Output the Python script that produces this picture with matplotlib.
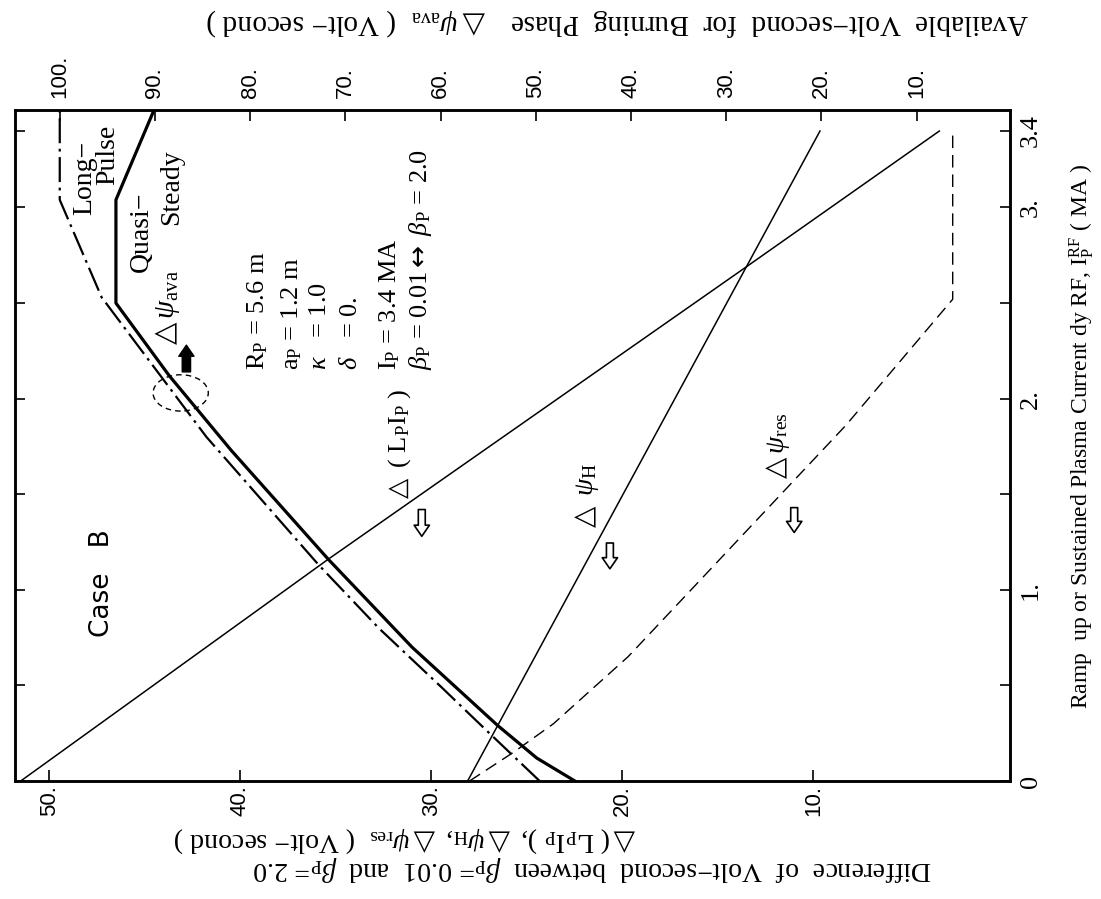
import matplotlib
matplotlib.use("Agg")
import matplotlib.pyplot as plt
from matplotlib.patches import Ellipse

plt.rcParams['font.family'] = ['Liberation Serif', 'DejaVu Sans']
plt.rcParams['mathtext.fontset'] = 'custom'
plt.rcParams['mathtext.rm'] = 'Liberation Serif'
plt.rcParams['mathtext.it'] = 'Liberation Serif:italic'
plt.rcParams['mathtext.bf'] = 'Liberation Serif:bold'
plt.rcParams['mathtext.sf'] = 'DejaVu Sans'
plt.rcParams['mathtext.fallback'] = 'stix'
plt.rcParams['lines.scale_dashes'] = False

W, H = 1101, 899

# Ip (MA) on the vertical axis; the figure is printed turned on its side
ip_lpip = [0, 1.16, 2.69, 3.4]
d_lpip = [51.5, 35.4, 13.5, 3.4]

ip_h = [0, 3.4]
d_h = [28.1, 9.65]

ip_res = [0, 0.15, 0.3, 0.65, 1.0, 1.86, 2.52, 3.4]
d_res = [28.0, 25.7, 23.6, 19.7, 16.4, 8.3, 2.7, 2.7]

# available volt-second (top axis)
ip_qs = [0, 0.12, 0.29, 0.7, 1.16, 1.73, 2.12, 2.50, 3.04, 3.51]
a_qs = [45.9, 49.9, 54.0, 63.0, 71.8, 82.0, 88.5, 94.1, 94.1, 90.1]

ip_lp = [0, 0.27, 0.49, 0.8, 1.13, 1.8, 2.53, 3.04, 3.51]
a_lp = [49.6, 55.3, 59.9, 66.5, 72.8, 84.6, 95.6, 100.0, 100.0]

diff_ticks = [50, 40, 30, 20, 10]
diff_labels = ['50.', '40.', '30.', '20.', '10.']
avail_ticks = [100, 90, 80, 70, 60, 50, 40, 30, 20, 10]
avail_labels = ['100.', '90.', '80.', '70.', '60.', '50.', '40.', '30.', '20.', '10.']
ip_ticks = [0, 1, 2, 3, 3.4]
ip_labels = ['0', '1.', '2.', '3.', '3.4']
ip_minor = [0.5, 1.5, 2.5]

tickfont = 'Liberation Sans'
TRI = r'$\mathsf{\triangle}$'

fig = plt.figure(figsize=(W / 100, H / 100), dpi=100)
ax = fig.add_axes([15 / W, 1 - 781 / H, 995 / W, 671 / H])
ax2 = ax.twiny()

ax.plot(d_lpip, ip_lpip, color='black', lw=1.1)
ax.plot(d_h, ip_h, color='black', lw=1.1)
ax.plot(d_res, ip_res, color='black', lw=1.0, ls=(0, (9, 5)))
ax2.plot(a_qs, ip_qs, color='black', lw=2.3)
ax2.plot(a_lp, ip_lp, color='black', lw=1.6, ls=(0, (18, 4, 2, 4)))

ax.set_xlim(51.8, -0.3)
ax.set_ylim(0, 3.51)
ax2.set_xlim(104.7, 0.2)

ax.set_xticks(diff_ticks)
ax.set_xticklabels(diff_labels, rotation=90, family=tickfont, fontsize=16)
ax.tick_params(axis='x', direction='in', length=8, width=1.2, pad=3,
               top=False)
ax.set_yticks(ip_ticks)
ax.set_yticklabels(ip_labels, rotation=90, va='center', fontsize=19)
ax.set_yticks(ip_minor, minor=True)
ax.tick_params(axis='y', which='both', direction='in', length=7, width=1.2,
               left=True, right=True, labelleft=False, labelright=True, pad=7)

ax2.set_xticks(avail_ticks)
ax2.set_xticklabels(avail_labels, rotation=90, family=tickfont, fontsize=16)
ax2.tick_params(axis='x', direction='in', length=8, width=1.2, pad=9,
                bottom=False)

for a in (ax, ax2):
    for s in a.spines.values():
        s.set_linewidth(1.8)

# hollow arrows
for xd, y0, y1 in [(30.5, 1.42, 1.28), (20.65, 1.245, 1.11), (11.0, 1.43, 1.30)]:
    ax.annotate('', xy=(xd, y1), xytext=(xd, y0),
                arrowprops=dict(arrowstyle='simple,head_length=0.4,head_width=0.55,tail_width=0.25',
                                fc='white', ec='black', lw=1.2, shrinkA=0, shrinkB=0,
                                mutation_scale=20))
ax2.annotate('', xy=(86.7, 2.28), xytext=(86.7, 2.14),
             arrowprops=dict(arrowstyle='simple,head_length=0.4,head_width=0.55,tail_width=0.3',
                             fc='black', ec='black', lw=1, shrinkA=0, shrinkB=0,
                             mutation_scale=20))
ax2.add_patch(Ellipse((87.3, 2.03), 5.8, 0.19, fill=False, lw=1.0,
                      ls=(0, (4, 3)), ec='black'))


def ftxt(x, y, s, **kw):
    fig.text(x / W, 1 - y / H, s, **kw)


ftxt(102, 583, 'Case   B', rotation=90, ha='center', va='center',
     family='DejaVu Sans', fontsize=19)
ftxt(85, 178, 'Long\u2212', rotation=90, ha='center', va='center', fontsize=20)
ftxt(108, 155, 'Pulse', rotation=90, ha='center', va='center', fontsize=20)
ftxt(141, 232, 'Quasi\u2212', rotation=90, ha='center', va='center', fontsize=20)
ftxt(172, 187, 'Steady', rotation=90, ha='center', va='center', fontsize=20)
ftxt(168, 310, TRI + r'$\psi_\mathrm{ava}$', rotation=90, ha='center',
     va='center', fontsize=21)

params = [r'R$_\mathrm{P}$ = 5.6 m', r'a$_\mathrm{P}$ = 1.2 m',
          r'$\kappa$   = 1.0', r'$\delta$   = 0.',
          r'I$_\mathrm{P}$ = 3.4 MA',
          r'$\beta_\mathrm{P}$ = 0.01$\mathsf{\leftrightarrow}$ $\beta_\mathrm{P}$ = 2.0']
for xp, s in zip([258, 292, 320, 351, 390, 420], params):
    ftxt(xp, 370, s, rotation=90, ha='center', va='bottom', fontsize=19)

ftxt(400, 445, TRI + r' ( L$_\mathrm{P}$I$_\mathrm{P}$ )', rotation=90,
     ha='center', va='center', fontsize=19)
ftxt(587, 497, TRI + r' $\psi_\mathrm{H}$', rotation=90, ha='center',
     va='center', fontsize=20)
ftxt(778, 448, TRI + r'$\psi_\mathrm{res}$', rotation=90, ha='center',
     va='center', fontsize=20)

# axis titles
ftxt(407, 840, TRI + r'( L$_\mathrm{P}$I$_\mathrm{P}$ ), ' + TRI + r'$\psi_\mathrm{H}$, '
     + TRI + r'$\psi_\mathrm{res}$  ( Volt$-$ second )',
     rotation=180, ha='center', va='center', fontsize=20)
ftxt(592, 868, r'Difference  of  Volt$-$second  between  $\beta_\mathrm{P}$= 0.01  and  '
     r'$\beta_\mathrm{P}$= 2.0', rotation=180, ha='center', va='center', fontsize=20)
ftxt(617, 22, r'Available  Volt$-$second  for  Burning  Phase   ' + TRI
     + r'$\psi_\mathrm{ava}$  ( Volt$-$ second )', rotation=180, ha='center',
     va='center', fontsize=21)
ftxt(1082, 437, r'Ramp  up or Sustained Plasma Current dy RF, I$_\mathrm{P}^\mathrm{RF}$ ( MA )',
     rotation=90, ha='center', va='center', fontsize=17)

fig.savefig('out.png', dpi=100)
